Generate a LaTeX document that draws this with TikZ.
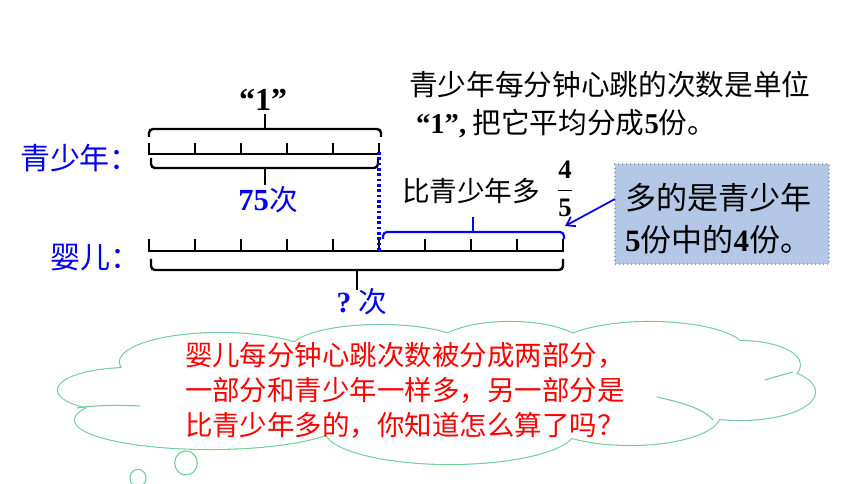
\documentclass[tikz,border=0pt]{standalone}
\usepackage{fontspec}
\setmainfont{Liberation Serif}
\newfontfamily\cjk{Noto Sans CJK SC}
\usetikzlibrary{arrows.meta}
\definecolor{myblue}{RGB}{0,0,240}
\definecolor{cloudgreen}{RGB}{110,205,150}
\definecolor{boxfill}{RGB}{180,199,231}
\definecolor{boxline}{RGB}{130,160,205}
\definecolor{myred}{RGB}{255,0,0}
\begin{document}
\begin{tikzpicture}[x=0.75pt,y=-0.75pt,
  bar/.style={line width=1.8pt, black},
  bluebar/.style={line width=1.6pt, myblue},
  txt/.style={inner sep=0pt, outer sep=0pt},
  cloudline/.style={cloudgreen, line width=1.6pt},
  innerline/.style={cloudgreen, line width=0.8pt}]
\useasboundingbox (0,0) rectangle (860,484);

% ---------- cloud ----------
\foreach \cx/\cy/\rx/\ry in {130/390/72/22,210/420/135/29,220/362/100/29,380/350/90/25,510/348/75/26,650/350/95/28,740/365/60/24,740/392/75/28,630/415/90/30,450/430/125/34,440/390/300/45}
  \draw[cloudline] (\cx,\cy) ellipse [x radius={\rx*0.75pt}, y radius={\ry*0.75pt}];
\foreach \cx/\cy/\rx/\ry in {130/390/72/22,210/420/135/29,220/362/100/29,380/350/90/25,510/348/75/26,650/350/95/28,740/365/60/24,740/392/75/28,630/415/90/30,450/430/125/34,440/390/300/45}
  \fill[white] (\cx,\cy) ellipse [x radius={\rx*0.75pt}, y radius={\ry*0.75pt}];
\draw[innerline] (77,408) .. controls (95,405) and (120,405) .. (140,406);
\draw[innerline] (657,397) .. controls (685,403) and (705,410) .. (713,420);
\draw[innerline] (765,380) .. controls (775,377) and (785,374) .. (793,372);
\draw[cloudline, line width=0.8pt] (186,463) ellipse [x radius=8.5pt, y radius=9pt];
\draw[cloudline, line width=0.8pt] (138,478) ellipse [x radius=6pt, y radius=6.5pt];

\node[txt, anchor=west, text=myred, align=left, font=\cjk\fontsize{20.6}{26.25}\selectfont] (cloudtext) at (185,390)
  {婴儿每分钟心跳次数被分成两部分，\\一部分和青少年一样多，另一部分是\\比青少年多的，你知道怎么算了吗？};

% ---------- teen bar ----------
\coordinate (tA) at (149,154);
\coordinate (tB) at (379,154);
\draw[bar] (tA) -- (tB);
\foreach \x in {149,195,241,287,333,379}
  \draw[bar] (\x,155) -- (\x,143);
% upper brace
\draw[bar, rounded corners=3pt] (149,137) |- (381,129) -- (381,137);
\draw[bar] (265,129) -- (265,114);
% lower brace
\draw[bar, rounded corners=3pt] (151,158) |- (378,168) -- (378,158);
\draw[bar] (265,168) -- (265,185);

% ---------- baby bar ----------
\coordinate (bA) at (149,251);
\coordinate (bB) at (564,251);
\draw[bar] (bA) -- (bB);
\foreach \x in {149,195,241,287,333,379,425,471,517,563}
  \draw[bar] (\x,252) -- (\x,239);
\draw[bar, rounded corners=3pt] (151,259) |- (563,270) -- (563,259);
\draw[bar] (357,270) -- (357,290);
% blue brace
\draw[bluebar, rounded corners=3pt] (383,239) |- (564,232) -- (564,239);
\draw[bluebar] (473,232) -- (473,217);
% dotted link
\coordinate (dTop) at (379,152);
\coordinate (dBot) at (379,251);
\draw[myblue, line width=2.4pt, dash pattern=on 2pt off 2pt] (dTop) -- (dBot);

% ---------- labels ----------
\node[txt, font=\fontsize{24}{28}\selectfont\bfseries] (one) at (263,100) {“1”};
\node[txt, anchor=west, text=myblue, font=\cjk\fontsize{22.5}{26}\selectfont] (teen) at (20,158) {青少年：};
\node[txt, anchor=west, text=myblue, font=\cjk\fontsize{22.5}{26}\selectfont] (baby) at (50,258) {婴儿：};
\node[txt, text=myblue] (n75) at (268,200) {{\fontsize{23}{26}\selectfont\bfseries 75}{\cjk\fontsize{21.5}{26}\selectfont 次}};
\node[txt, text=myblue] (nq) at (362,302) {{\fontsize{22}{26}\selectfont\bfseries ?~}{\cjk\fontsize{21.5}{26}\selectfont 次}};

\node[txt, anchor=west, font=\cjk\fontsize{21.5}{26}\selectfont] (t1) at (409,85) {青少年每分钟心跳的次数是单位};
\node[txt, anchor=west, font=\cjk\fontsize{21.5}{26}\selectfont] (t2) at (416,124) {{\rmfamily\bfseries “1”,} 把它平均分成{\rmfamily\bfseries 5}份。};

\node[txt, anchor=west, font=\cjk\fontsize{20.7}{26}\selectfont] (more) at (402,191) {比青少年多};
\node[txt, font=\fontsize{20}{24}\selectfont] (frac) at (565,189) {$\displaystyle\frac{\textbf{4}}{\textbf{5}}$};

% ---------- blue box ----------
\node[draw=boxline, fill=boxfill, dotted, line width=1pt, minimum width=214*0.75pt, minimum height=100*0.75pt, inner sep=0pt] (box) at (722,214) {};
\node[txt, anchor=west, font=\cjk\fontsize{23.3}{28}\selectfont] (b1) at (625,198) {多的是青少年};
\node[txt, anchor=west, font=\cjk\fontsize{23.3}{28}\selectfont] (b2) at (625,240) {{\rmfamily\bfseries 5}份中的{\rmfamily\bfseries 4}份。};
\coordinate (arrS) at (615,199);
\coordinate (arrE) at (565,226);
\draw[myblue, line width=1.3pt, -{Straight Barb[length=6pt,width=8pt]}] (arrS) -- (arrE);
\end{tikzpicture}
\end{document}
